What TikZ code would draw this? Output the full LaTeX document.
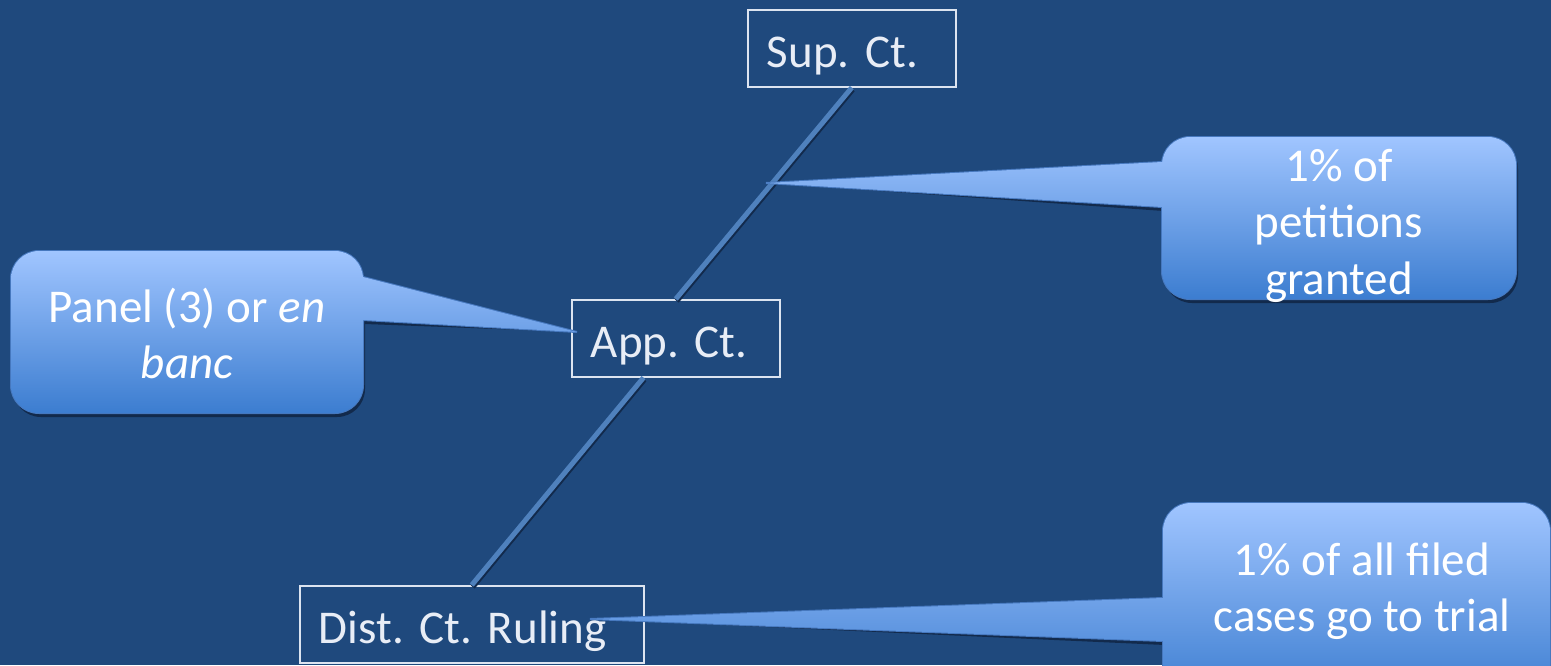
\documentclass[tikz,border=0pt]{standalone}
\usepackage{fontspec}
\setmainfont{Carlito}
\frenchspacing
\usetikzlibrary{calc}
\definecolor{bgcol}{RGB}{31,73,125}
\definecolor{conncol}{RGB}{79,129,189}
\definecolor{boxedge}{RGB}{220,228,240}
\definecolor{boxtext}{RGB}{232,237,246}
\definecolor{ctop}{RGB}{160,197,255}
\definecolor{cbot}{RGB}{60,125,208}
\definecolor{cedge}{RGB}{70,120,190}
\definecolor{cshadow}{RGB}{18,42,76}
\begin{document}
\frenchspacing
\begin{tikzpicture}[x=1pt,y=-1pt,
  courtbox/.style={draw=boxedge, line width=1.6pt, text=boxtext, align=left,
    inner xsep=19pt, inner ysep=0pt, text height=58pt, text depth=19pt,
    anchor=north west, font=\fontsize{47}{56.5}\selectfont\frenchspacing},
  conn/.style={draw=conncol, line width=5pt},
  connshadow/.style={draw=cshadow, line width=5pt, transform canvas={shift={(1pt,-2pt)}}},
  calloutshadow/.style={fill=cshadow, shift={(2,4)}},
  calloutedge/.style={draw=cedge, line width=2pt},
  calloutfill/.style={top color=ctop, bottom color=cbot},
  callouttext/.style={text=white, align=center, inner sep=0pt, anchor=north,
    font=\fontsize{47}{56.5}\selectfont\frenchspacing}
]
\useasboundingbox (0,0) rectangle (1551,665);
\clip (0,0) rectangle (1551,665);
\fill[bgcol] (0,0) rectangle (1551,665);

% court boxes
\node[courtbox, text width=170pt] (sup) at (747,9) {Sup. Ct.};
\node[courtbox, text width=170pt] (app) at (571,299) {App. Ct.};
\node[courtbox, text width=306pt] (dist) at (299,585) {Dist. Ct. Ruling};

% connectors
\coordinate (appout) at ($(app.south west)!0.346!(app.south east)$);
\draw[connshadow] (sup.south) -- (app.north);
\draw[connshadow] (appout) -- (dist.north);
\draw[conn] (sup.south) -- (app.north);
\draw[conn] (appout) -- (dist.north);

% callout tips
\coordinate (tipA) at (577,332);
\coordinate (tipB) at (766,183);
\coordinate (tipC) at (590,619);

% callout A: Panel
\fill[calloutshadow, rounded corners=28pt] (11,251) rectangle (363,413);
\fill[calloutshadow] (363,277) -- (tipA) -- (363,320) -- cycle;
\path[calloutedge, rounded corners=28pt] (11,251) rectangle (363,413);
\path[calloutedge] (363,277) -- (tipA) -- (363,320) -- cycle;
\shade[calloutfill] [rounded corners=28pt] (11,251) rectangle (363,413) [sharp corners] (363,277) -- (tipA) -- (363,320) -- cycle;
\node[callouttext] (tA) at (187,282.5) {\strut Panel (3) or \textit{en}\\\strut\textit{banc}};

% callout B: petitions
\fill[calloutshadow, rounded corners=28pt] (1162,137) rectangle (1516,299);
\fill[calloutshadow] (1162,162) -- (tipB) -- (1162,207) -- cycle;
\path[calloutedge, rounded corners=28pt] (1162,137) rectangle (1516,299);
\path[calloutedge] (1162,162) -- (tipB) -- (1162,207) -- cycle;
\shade[calloutfill] [rounded corners=28pt] (1162,137) rectangle (1516,299) [sharp corners] (1162,162) -- (tipB) -- (1162,207) -- cycle;
\node[callouttext] (tB) at (1339,141.5) {\strut 1\% of\\\strut petitions\\\strut granted};

% callout C: trial
\fill[calloutshadow, rounded corners=28pt] (1163,503) rectangle (1550,700);
\fill[calloutshadow] (1163,598) -- (tipC) -- (1163,641) -- cycle;
\path[calloutedge, rounded corners=28pt] (1163,503) rectangle (1550,700);
\path[calloutedge] (1163,598) -- (tipC) -- (1163,641) -- cycle;
\shade[calloutfill] [rounded corners=28pt] (1163,503) rectangle (1550,700) [sharp corners] (1163,598) -- (tipC) -- (1163,641) -- cycle;
\node[callouttext] (tC) at (1362,535.5) {\strut 1\% of all filed\\\strut cases go to trial};
\end{tikzpicture}
\end{document}
